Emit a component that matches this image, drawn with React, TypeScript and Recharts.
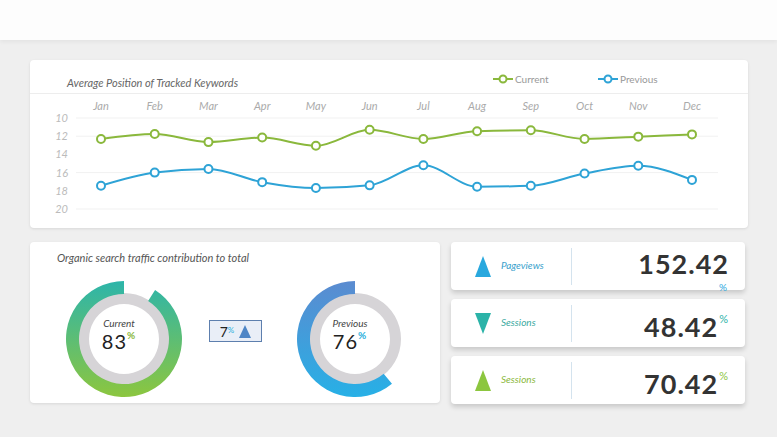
import { LineChart, Line, XAxis, YAxis, CartesianGrid, PieChart, Pie, Cell } from "recharts"

const months = ["Jan", "Feb", "Mar", "Apr", "May", "Jun", "Jul", "Aug", "Sep", "Oct", "Nov", "Dec"]
const currentPos = [12.3, 11.75, 12.65, 12.15, 13.05, 11.3, 12.3, 11.45, 11.35, 12.3, 12.05, 11.8]
const previousPos = [17.45, 16.0, 15.6, 17.05, 17.7, 17.4, 15.2, 17.55, 17.45, 16.1, 15.25, 16.8]
const yTicks = [10, 12, 14, 16, 18, 20]

const donutNames = ["Current", "Previous"]
const donutPercent = [83, 76]
// arc length as drawn in the picture (percent of a full turn)
const donutArc = [91, 61]
const donutChange = 7

const kpiLabels = ["Pageviews", "Sessions", "Sessions"]
const kpiValues = ["152.42", "48.42", "70.42"]
const kpiUp = [true, false, true]

const GREEN = "#8ab83c"
const BLUE = "#2ea3d6"
const kpiColors = ["#29a8de", "#2bb3a8", "#8cc63f"]
const kpiTextColors = ["#3a9fcc", "#3aa9a0", "#8ab83c"]

const FONT = "Lato, 'Open Sans', sans-serif"

const chartData = months.map((m, i) => ({ month: m, current: currentPos[i], previous: previousPos[i] }))

const card: React.CSSProperties = {
  position: "absolute",
  background: "#fff",
  borderRadius: 4,
  boxShadow: "0 1px 3px rgba(0,0,0,0.10)",
}

function LegendItem({ color, label, left }: { color: string; label: string; left: number }) {
  return (
    <div style={{ position: "absolute", left, top: 73, display: "flex", alignItems: "center", fontSize: 10, color: "#999" }}>
      <svg width={20} height={10}>
        <line x1={0} y1={5} x2={20} y2={5} stroke={color} strokeWidth={2} />
        <circle cx={10} cy={5} r={3.5} fill="#fff" stroke={color} strokeWidth={2} />
      </svg>
      <span style={{ marginLeft: 2 }}>{label}</span>
    </div>
  )
}

function Donut({ idx, cx, cy }: { idx: number; cx: number; cy: number }) {
  const arc = [{ v: donutArc[idx] }, { v: 100 - donutArc[idx] }]
  const pctColor = idx === 0 ? GREEN : "#2ab0dc"
  return (
    <div style={{ position: "absolute", left: cx - 65, top: cy - 65, width: 130, height: 130 }}>
      <PieChart width={130} height={130}>
        <Pie data={[{ v: 1 }]} dataKey="v" cx={65} cy={65} innerRadius={35} outerRadius={46}
          fill="#d6d4d7" stroke="none" isAnimationActive={false} />
        <Pie data={arc} dataKey="v" cx={65} cy={65} innerRadius={45} outerRadius={58}
          startAngle={90} endAngle={450} stroke="none" isAnimationActive={false}>
          <Cell fill={idx === 0 ? "url(#gradCurrent)" : "url(#gradPrevious)"} />
          <Cell fill="transparent" />
        </Pie>
      </PieChart>
      <div style={{ position: "absolute", left: 0, top: 48, width: 130, textAlign: "center", fontSize: 10, color: "#444", fontStyle: "italic" }}>
        {donutNames[idx]}
      </div>
      <div style={{ position: "absolute", left: 0, top: 60, width: 130, textAlign: "center", fontSize: 20, color: "#222", letterSpacing: 1 }}>
        {donutPercent[idx]}
        <span style={{ fontSize: 10, color: pctColor, verticalAlign: "top", fontWeight: 700 }}>%</span>
      </div>
    </div>
  )
}

function Kpi({ idx, top }: { idx: number; top: number }) {
  const color = kpiColors[idx]
  const tri = kpiUp[idx] ? "8,0 16,21 0,21" : "0,0 16,0 8,21"
  const numStyle: React.CSSProperties = {
    position: "absolute", right: 16, top: 14, fontSize: 27, lineHeight: 1, fontWeight: 700, color: "#333", letterSpacing: 1,
  }
  return (
    <div style={{ ...card, left: 451, top, width: 294, height: 48, boxShadow: "0 3px 5px rgba(0,0,0,0.16)" }}>
      <svg width={16} height={21} style={{ position: "absolute", left: 24, top: 14 }}>
        <polygon points={tri} fill={color} />
      </svg>
      <div style={{ position: "absolute", left: 50, top: 17, fontSize: 10, color: kpiTextColors[idx], fontStyle: "italic" }}>
        {kpiLabels[idx]}
      </div>
      <div style={{ position: "absolute", left: 120, top: 6, width: 1, height: 37, background: "#d4e3ee" }} />
      {idx === 0 ? (
        <>
          <div style={{ ...numStyle, top: 8 }}>{kpiValues[idx]}</div>
          <div style={{ position: "absolute", right: 18, top: 40, fontSize: 10, lineHeight: 1, color: color }}>%</div>
        </>
      ) : (
        <div style={numStyle}>
          {kpiValues[idx]}
          <span style={{ fontSize: 11, fontWeight: 400, color: color, verticalAlign: "top", marginLeft: 1 }}>%</span>
        </div>
      )}
    </div>
  )
}

export default function App() {
  return (
    <div style={{ position: "absolute", left: 0, top: 0, width: 777, height: 437, overflow: "hidden", background: "#efefef", fontFamily: FONT }}>
      <svg width={0} height={0} style={{ position: "absolute" }}>
        <defs>
          <linearGradient id="gradCurrent" x1="0" y1="0" x2="0" y2="1">
            <stop offset="0%" stopColor="#2db5aa" />
            <stop offset="100%" stopColor="#8cc63f" />
          </linearGradient>
          <linearGradient id="gradPrevious" x1="0" y1="0" x2="0" y2="1">
            <stop offset="0%" stopColor="#5b8bd0" />
            <stop offset="100%" stopColor="#27b0e6" />
          </linearGradient>
        </defs>
      </svg>

      {/* top band */}
      <div style={{ position: "absolute", left: 0, top: 0, width: 777, height: 40, background: "#fdfdfd", boxShadow: "0 2px 4px rgba(0,0,0,0.05)" }} />

      {/* line chart card */}
      <div style={{ ...card, left: 30, top: 60, width: 718, height: 168 }}>
        <div style={{ position: "absolute", left: 37, top: 16, fontSize: 11, color: "#666", fontStyle: "italic" }}>
          Average Position of Tracked Keywords
        </div>
        <div style={{ position: "absolute", left: 0, top: 33, width: 718, height: 1, background: "#ededed" }} />
      </div>
      <LegendItem color={GREEN} label="Current" left={493} />
      <LegendItem color={BLUE} label="Previous" left={598} />
      <div style={{ position: "absolute", left: 30, top: 94 }}>
        <LineChart width={718} height={130} data={chartData} margin={{ top: 4, right: 30, left: 0, bottom: 15 }}>
          <CartesianGrid vertical={false} stroke="#f1f1f1" />
          <XAxis dataKey="month" orientation="top" height={20} axisLine={false} tickLine={false}
            padding={{ left: 25, right: 26 }} tick={{ fill: "#aaa", fontSize: 11, fontStyle: "italic" }} />
          <YAxis domain={[10, 20]} ticks={yTicks} reversed width={46} axisLine={false} tickLine={false}
            tickMargin={2} tick={{ fill: "#bbb", fontSize: 11, fontStyle: "italic" }} />
          <Line type="monotone" dataKey="current" stroke={GREEN} strokeWidth={2}
            dot={{ r: 4, fill: "#fff", stroke: GREEN, strokeWidth: 2 }} isAnimationActive={false} />
          <Line type="monotone" dataKey="previous" stroke={BLUE} strokeWidth={2}
            dot={{ r: 4, fill: "#fff", stroke: BLUE, strokeWidth: 2 }} isAnimationActive={false} />
        </LineChart>
      </div>

      {/* donut card */}
      <div style={{ ...card, left: 30, top: 242, width: 410, height: 161 }}>
        <div style={{ position: "absolute", left: 27, top: 9, fontSize: 11, color: "#555", fontStyle: "italic" }}>
          Organic search traffic contribution to total
        </div>
      </div>
      <Donut idx={0} cx={119} cy={334} />
      <Donut idx={1} cx={350} cy={334} />
      <div style={{ position: "absolute", left: 209, top: 320, width: 51, height: 20, background: "#e9eef7", border: "1px solid #5d7fae", display: "flex", alignItems: "center", justifyContent: "center" }}>
        <span style={{ fontSize: 14, color: "#222" }}>{donutChange}</span>
        <span style={{ fontSize: 8, color: "#2ab0dc", alignSelf: "flex-start", marginTop: 4 }}>%</span>
        <svg width={12} height={13} style={{ marginLeft: 5 }}>
          <polygon points="6,0 12,13 0,13" fill="#4f86c6" />
        </svg>
      </div>

      {/* kpi cards */}
      <Kpi idx={0} top={242} />
      <Kpi idx={1} top={299} />
      <Kpi idx={2} top={356} />
    </div>
  )
}
